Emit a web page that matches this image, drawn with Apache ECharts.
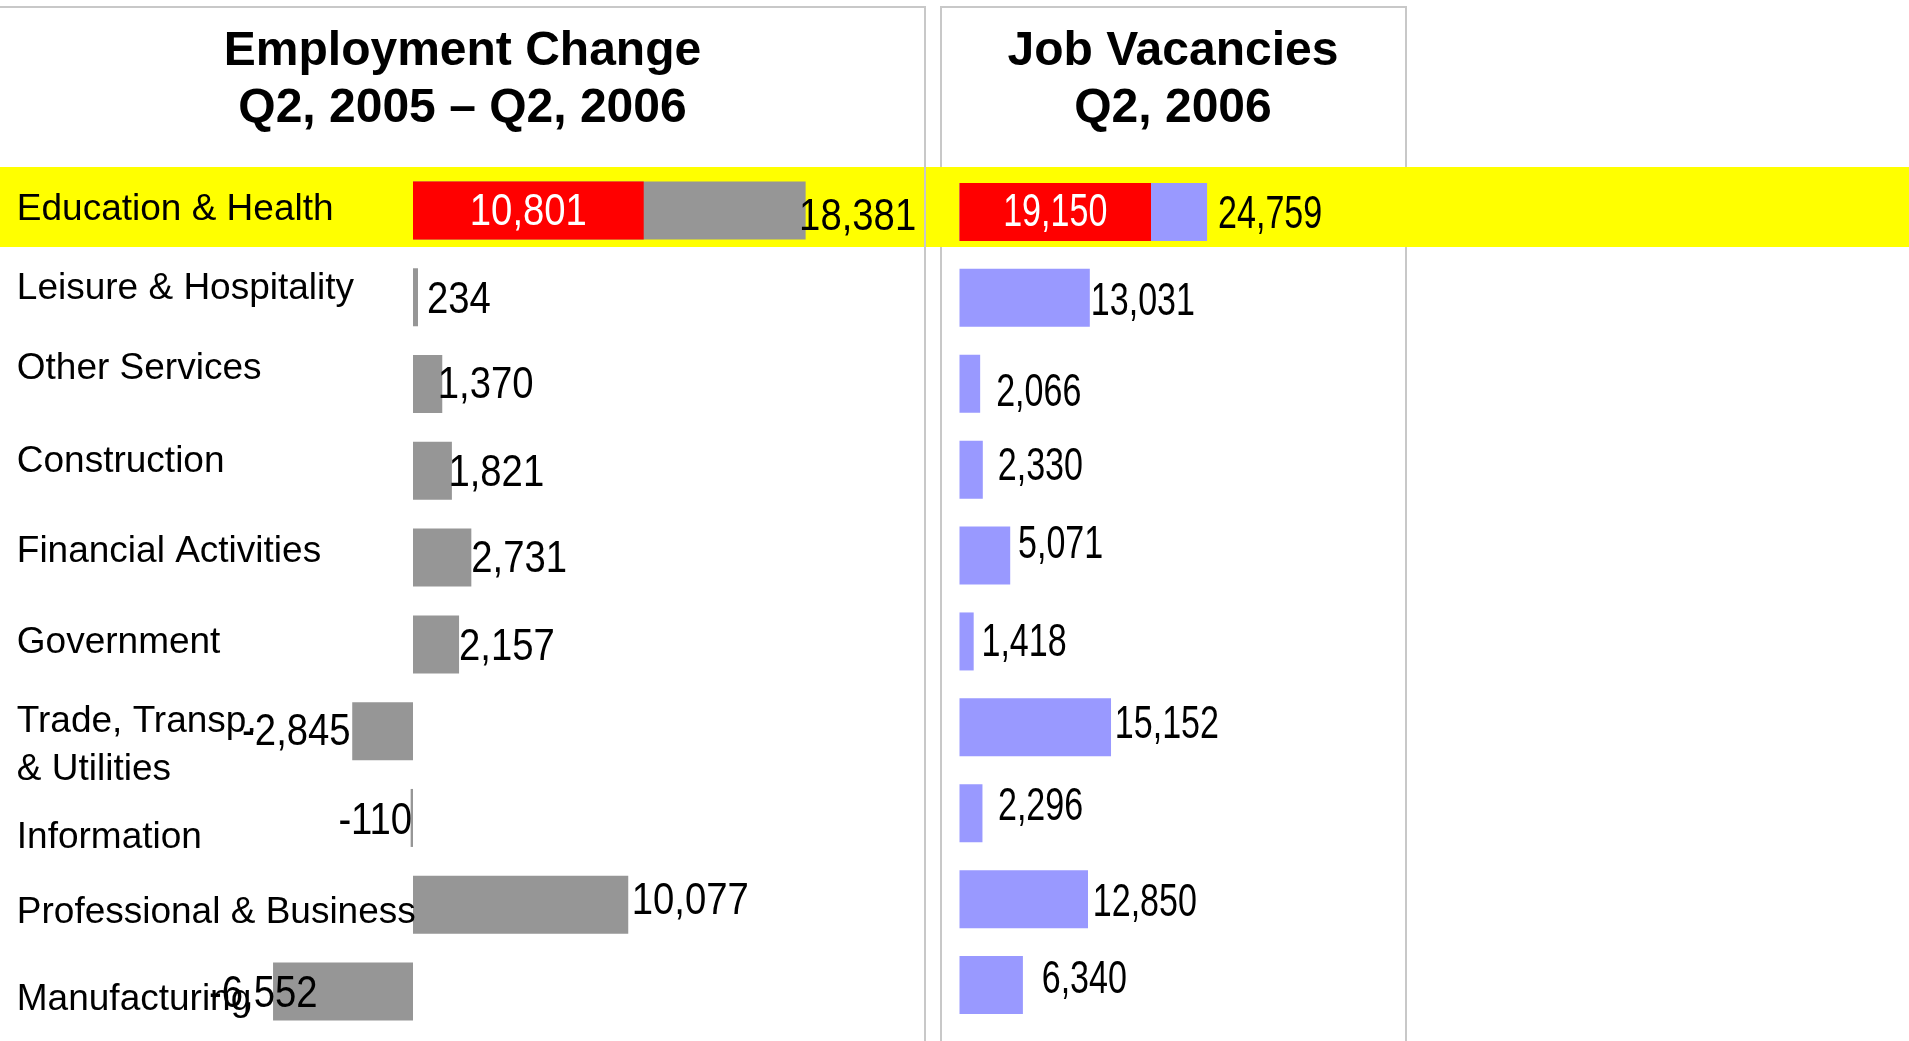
<!DOCTYPE html>
<html>
<head>
<meta charset="utf-8">
<script src="https://cdn.jsdelivr.net/npm/echarts@6/dist/echarts.min.js"></script>
<style>
html,body{margin:0;padding:0;background:#ffffff;}
#chart{width:1909px;height:1041px;}
</style>
</head>
<body>
<div id="chart"></div>
<script>
// ---------------- DATA ----------------
const categories = [
  'Education & Health',
  'Leisure & Hospitality',
  'Other Services',
  'Construction',
  'Financial Activities',
  'Government',
  'Trade, Transp.\n& Utilities',
  'Information',
  'Professional & Business',
  'Manufacturing'
];
const employmentChange    = [18381, 234, 1370, 1821, 2731, 2157, -2845, -110, 10077, -6552];
const employmentHighlight = [10801, null, null, null, null, null, null, null, null, null];
const jobVacancies        = [24759, 13031, 2066, 2330, 5071, 1418, 15152, 2296, 12850, 6340];
const vacancyHighlight    = [19150, null, null, null, null, null, null, null, null, null];
const employmentTitle = ['Employment Change', 'Q2, 2005 \u2013 Q2, 2006'];
const vacancyTitle    = ['Job Vacancies', 'Q2, 2006'];

// ---------------- LAYOUT / STYLE ----------------
const SANS = "'Liberation Sans', Arial, sans-serif";
const GRAY = '#969696', RED = '#FF0000', BLUE = '#9999FF', YELLOW = '#FFFF00', BORDER = '#C8C8C8';
// vertical nudge of each category label relative to its bar (px, + = down)
const catShift = [-1, -8, -15, -9, -5.5, -2, 14.5, 19.5, 8.5, 8];
const catMargin = 75.8;  // distance of category labels left of the plot area
// value label nudges [dx, dy] (relative to bar end)
const empNudge = [[-6.5,7],[9,3.5],[-4.5,1.5],[-3.5,3.5],[0,2.5],[0,3.5],[-1.6,2],[1.5,4],[3.5,-3],[44.5,3]];
const vacNudge = [[11,3],[1,4.5],[16,10],[15,-2.5],[7.8,-10],[7.8,2],[3.8,-2.5],[15.5,-5.5],[4.8,4.5],[18.8,-4.5]];

const fmt = v => Number(v).toLocaleString('en-US');

// value labels drawn as text marks positioned through the axes (allows horizontal condensing)
function valueLabels(xi, yi, values, nudges, fontSize, scaleX, color, centered) {
  const rows = [];
  values.forEach((v, i) => { if (v != null) rows.push([v, i]); });
  return {
    type: 'custom', coordinateSystem: 'cartesian2d', xAxisIndex: xi, yAxisIndex: yi,
    z: 6, silent: true, encode: { x: 0, y: 1 }, data: rows,
    renderItem: function (params, api) {
      const v = api.value(0), i = api.value(1);
      const nd = nudges ? nudges[i] : [0, 0];
      const p = api.coord([centered ? v / 2 : v, i]);
      const align = centered ? 'center' : (v < 0 ? 'right' : 'left');
      return {
        type: 'text', x: p[0] + nd[0], y: p[1] + nd[1], scaleX: scaleX, scaleY: 1,
        style: { text: fmt(v), fill: color, fontFamily: SANS, fontSize: fontSize,
                 align: align, verticalAlign: 'middle' }
      };
    }
  };
}

// category labels, placed on each category row of the left panel
const categoryLabels = {
  type: 'custom', coordinateSystem: 'cartesian2d', xAxisIndex: 0, yAxisIndex: 0,
  z: 6, silent: true, encode: { x: 0, y: 1 },
  data: categories.map((c, i) => [0, i]),
  renderItem: function (params, api) {
    const i = api.value(1);
    const p = api.coord([0, i]);
    return {
      type: 'text', x: params.coordSys.x - catMargin, y: p[1] + catShift[i],
      style: { text: categories[i], fill: '#000', fontFamily: SANS, fontSize: 37,
               lineHeight: 48.5, align: 'left', verticalAlign: 'middle' }
    };
  }
};

const chart = echarts.init(document.getElementById('chart'), null, { renderer: 'canvas' });

const titleText = (txt, x, y) => ({
  type: 'text', x: x, y: y, z: 5,
  style: { text: txt, fill: '#000', fontFamily: SANS, fontWeight: 'bold', fontSize: 48,
           align: 'center', verticalAlign: 'middle' }
});

const option = {
  animation: false,
  backgroundColor: '#ffffff',
  grid: [
    { left: 92.6, width: 747.6, top: 167.1, height: 867.8, containLabel: false, outerBoundsMode: 'none' },
    { left: 959.5, width: 400, top: 169, height: 859, containLabel: false, outerBoundsMode: 'none' }
  ],
  xAxis: [
    { type: 'value', gridIndex: 0, min: -15000, max: 20000, show: false },
    { type: 'value', gridIndex: 1, min: 0, max: 40000, show: false }
  ],
  yAxis: [
    { type: 'category', gridIndex: 0, inverse: true, data: categories, show: false },
    { type: 'category', gridIndex: 1, inverse: true, data: categories, show: false }
  ],
  graphic: [
    { type: 'rect', z: 1, shape: { x: 941, y: 7, width: 465, height: 1100 },
      style: { fill: 'none', stroke: BORDER, lineWidth: 2 } },
    { type: 'rect', z: 1, shape: { x: 0, y: 167, width: 1909, height: 80 },
      style: { fill: YELLOW } },
    { type: 'rect', z: 1, shape: { x: -5, y: 7, width: 930, height: 1100 },
      style: { fill: 'none', stroke: BORDER, lineWidth: 2 } },
    titleText(employmentTitle[0], 462.5, 52),
    titleText(employmentTitle[1], 462.5, 109),
    titleText(vacancyTitle[0], 1173, 52),
    titleText(vacancyTitle[1], 1173, 109)
  ],
  series: [
    { type: 'bar', name: 'Employment change', xAxisIndex: 0, yAxisIndex: 0,
      barWidth: 58, barGap: '-100%', data: employmentChange,
      itemStyle: { color: GRAY } },
    { type: 'bar', name: 'Employment highlight', xAxisIndex: 0, yAxisIndex: 0,
      barWidth: 58, barGap: '-100%', data: employmentHighlight,
      itemStyle: { color: RED } },
    { type: 'bar', name: 'Job vacancies', xAxisIndex: 1, yAxisIndex: 1,
      barWidth: 58, barGap: '-100%', data: jobVacancies,
      itemStyle: { color: BLUE } },
    { type: 'bar', name: 'Vacancy highlight', xAxisIndex: 1, yAxisIndex: 1,
      barWidth: 58, barGap: '-100%', data: vacancyHighlight,
      itemStyle: { color: RED } },
    categoryLabels,
    valueLabels(0, 0, employmentChange, empNudge, 44, 0.87, '#000', false),
    valueLabels(0, 0, employmentHighlight, [[0, 2]], 44, 0.87, '#fff', true),
    valueLabels(1, 1, jobVacancies, vacNudge, 46, 0.74, '#000', false),
    valueLabels(1, 1, vacancyHighlight, [[0, 1.5]], 46, 0.74, '#fff', true)
  ]
};
chart.setOption(option);
</script>
</body>
</html>
